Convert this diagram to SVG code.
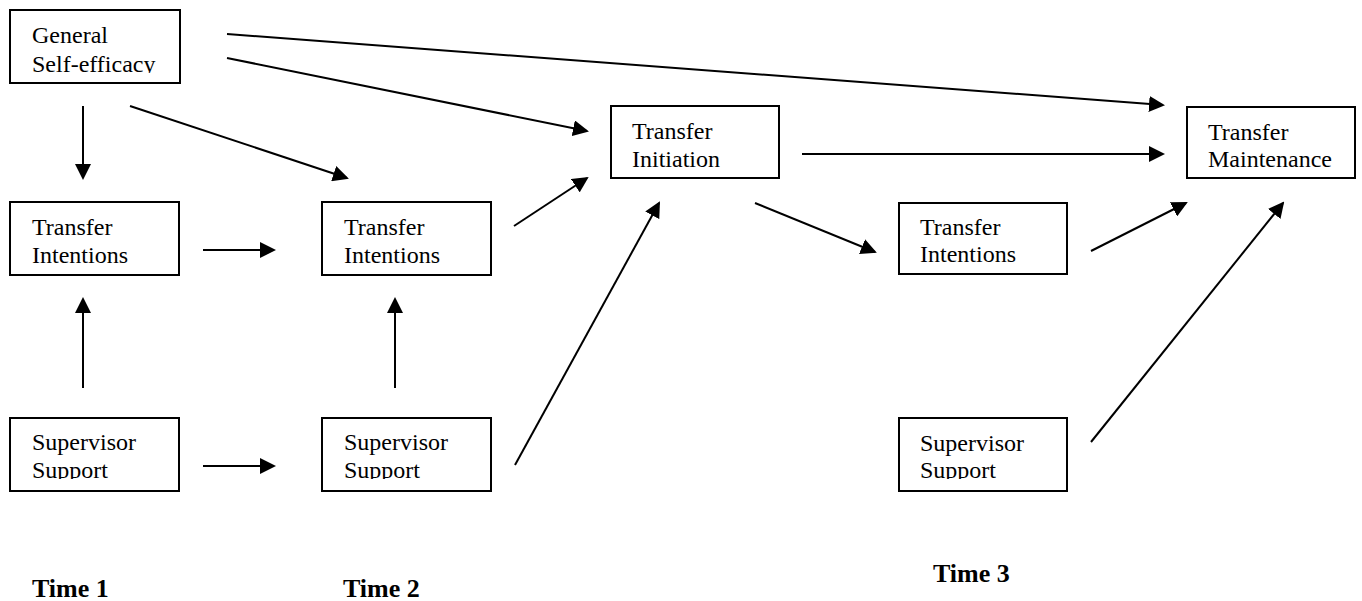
<svg xmlns="http://www.w3.org/2000/svg" width="1362" height="601" viewBox="0 0 1362 601">
<style>
.box{fill:#fff;stroke:#000;stroke-width:2}
.t{font-family:"Liberation Serif","Times New Roman",serif;font-size:24px;fill:#000}
.time{font-family:"Liberation Serif","Times New Roman",serif;font-size:26px;font-weight:bold;fill:#000}
.c{stroke:#000;stroke-width:2;fill:none;marker-end:url(#ah)}
</style>
<defs>
<marker id="ah" viewBox="0 0 16 16" refX="14" refY="8" markerWidth="16" markerHeight="16" markerUnits="userSpaceOnUse" orient="auto">
<path d="M0,0 L16,8 L0,16 z" fill="#000"/>
</marker>
<clipPath id="cGSE"><rect x="10" y="10" width="170" height="63"/></clipPath>
<clipPath id="cSS1"><rect x="10" y="418" width="170" height="61"/></clipPath>
<clipPath id="cSS2"><rect x="322" y="418" width="170" height="61"/></clipPath>
<clipPath id="cSS3"><rect x="899" y="418" width="170" height="61"/></clipPath>
</defs>
<rect width="1362" height="601" fill="#fff"/>
<g id="connectors">
<line class="c" x1="83" y1="106" x2="83" y2="178"/>
<line class="c" x1="130" y1="106" x2="347" y2="178"/>
<line class="c" x1="227" y1="58" x2="587" y2="131"/>
<line class="c" x1="227" y1="34" x2="1163" y2="105"/>
<line class="c" x1="203" y1="250" x2="274" y2="250"/>
<line class="c" x1="83" y1="388" x2="83" y2="299"/>
<line class="c" x1="395" y1="388" x2="395" y2="299"/>
<line class="c" x1="203" y1="466" x2="274" y2="466"/>
<line class="c" x1="514" y1="226" x2="587" y2="178"/>
<line class="c" x1="515" y1="465" x2="659" y2="203"/>
<line class="c" x1="755" y1="203" x2="875" y2="252"/>
<line class="c" x1="802" y1="154" x2="1163" y2="154"/>
<line class="c" x1="1091" y1="251" x2="1186" y2="203"/>
<line class="c" x1="1091" y1="442" x2="1283" y2="203"/>
</g>
<g id="gse">
<rect class="box" x="10" y="10" width="170" height="73"/>
<g clip-path="url(#cGSE)"><text class="t" x="32" y="43">General</text><text class="t" x="32" y="72">Self-efficacy</text></g>
</g>
<g id="ti1">
<rect class="box" x="10" y="202" width="169" height="73"/>
<text class="t" x="32" y="235">Transfer</text><text class="t" x="32" y="263">Intentions</text>
</g>
<g id="ti2">
<rect class="box" x="322" y="202" width="169" height="73"/>
<text class="t" x="344" y="235">Transfer</text><text class="t" x="344" y="263">Intentions</text>
</g>
<g id="ss1">
<rect class="box" x="10" y="418" width="169" height="73"/>
<g clip-path="url(#cSS1)"><text class="t" x="32" y="450">Supervisor</text><text class="t" x="32" y="478">Support</text></g>
</g>
<g id="ss2">
<rect class="box" x="322" y="418" width="169" height="73"/>
<g clip-path="url(#cSS2)"><text class="t" x="344" y="450">Supervisor</text><text class="t" x="344" y="478">Support</text></g>
</g>
<g id="tinit">
<rect class="box" x="611" y="106" width="168" height="72"/>
<text class="t" x="632" y="139">Transfer</text><text class="t" x="632" y="167">Initiation</text>
</g>
<g id="ti3">
<rect class="box" x="899" y="203" width="168" height="71"/>
<text class="t" x="920" y="235">Transfer</text><text class="t" x="920" y="262">Intentions</text>
</g>
<g id="ss3">
<rect class="box" x="899" y="418" width="168" height="73"/>
<g clip-path="url(#cSS3)"><text class="t" x="920" y="451">Supervisor</text><text class="t" x="920" y="478">Support</text></g>
</g>
<g id="tm">
<rect class="box" x="1187" y="107" width="168" height="71"/>
<text class="t" x="1208" y="140">Transfer</text><text class="t" x="1208" y="167">Maintenance</text>
</g>
<g id="labels">
<text class="time" x="32" y="597">Time 1</text>
<text class="time" x="343" y="597">Time 2</text>
<text class="time" x="933" y="582">Time 3</text>
</g>
</svg>
